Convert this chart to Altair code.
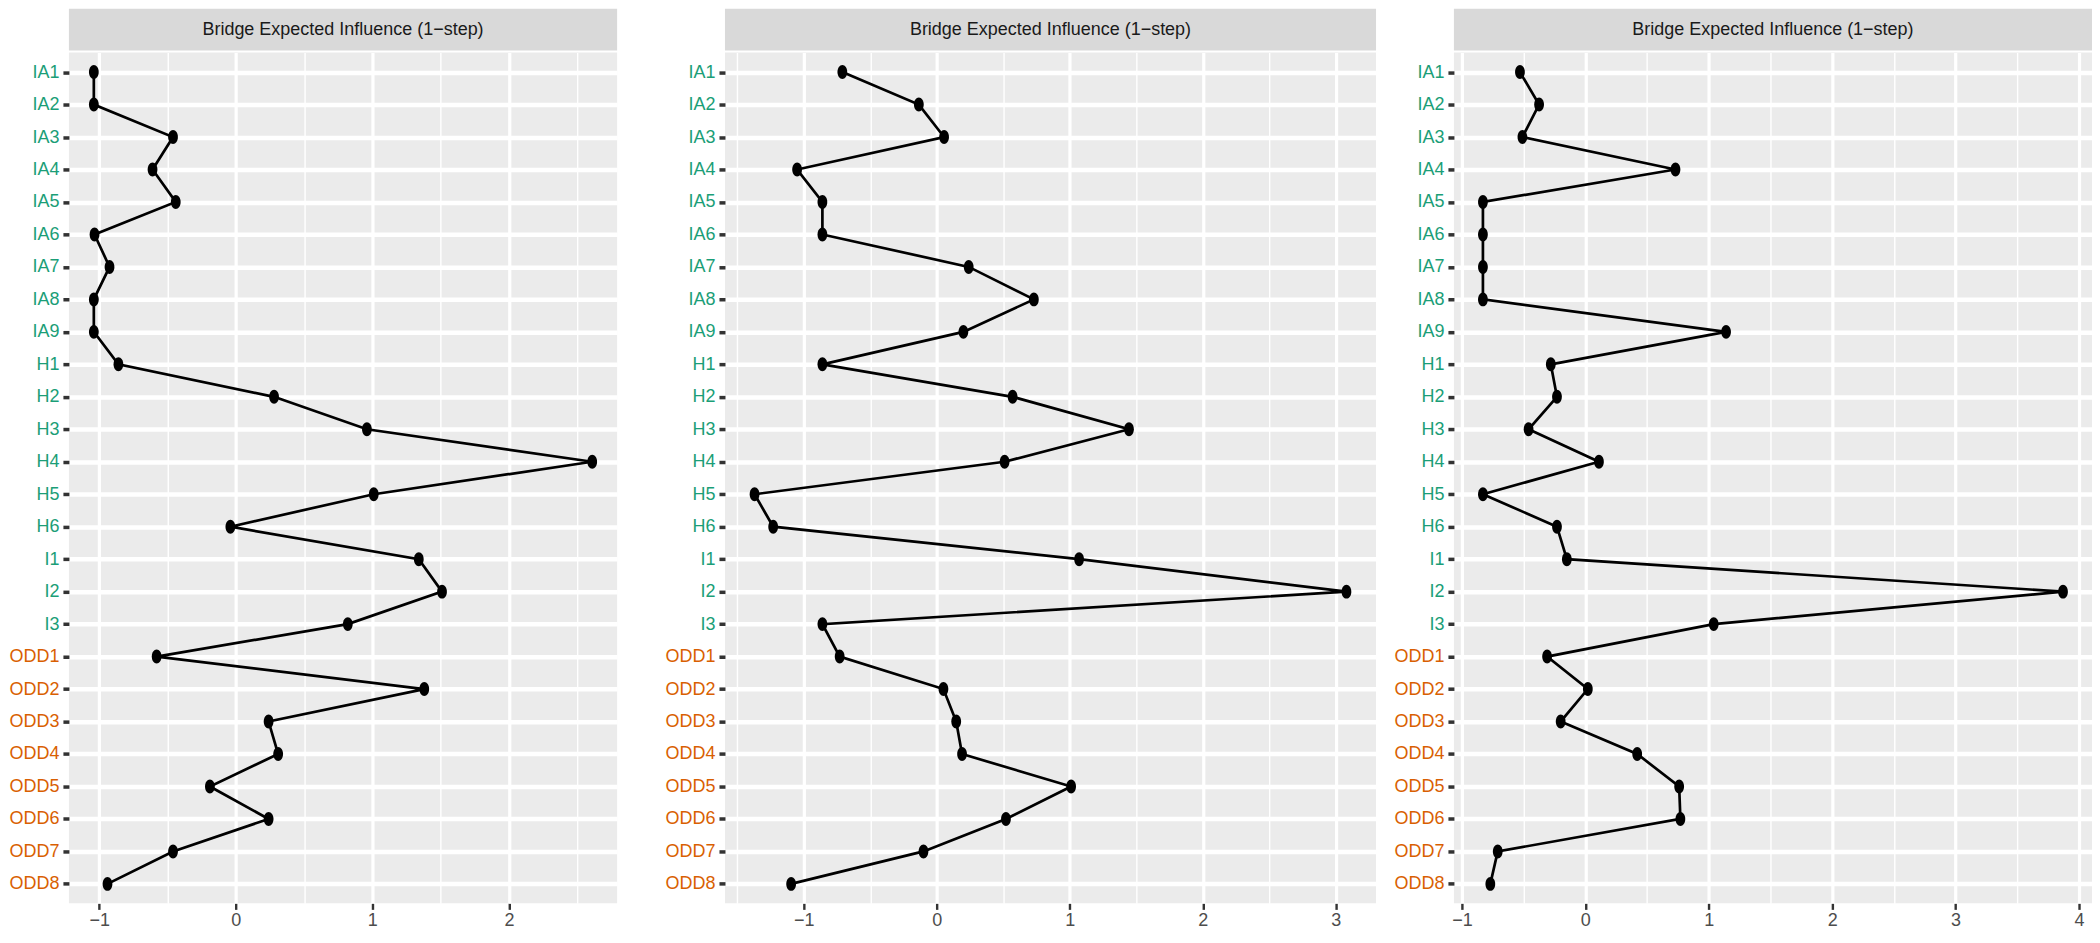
import altair as alt
import pandas as pd
import numpy as np

nodes = ["IA1", "IA2", "IA3", "IA4", "IA5", "IA6", "IA7", "IA8", "IA9",
         "H1", "H2", "H3", "H4", "H5", "H6", "I1", "I2", "I3",
         "ODD1", "ODD2", "ODD3", "ODD4", "ODD5", "ODD6", "ODD7", "ODD8"]

panel1 = [-1.04, -1.04, -0.46, -0.61, -0.44, -1.035, -0.925, -1.04, -1.04,
          -0.86, 0.28, 0.96, 2.61, 1.01, -0.04, 1.34, 1.51, 0.82,
          -0.58, 1.38, 0.24, 0.31, -0.19, 0.24, -0.46, -0.94]
panel2 = [-0.71, -0.135, 0.055, -1.05, -0.86, -0.86, 0.24, 0.73, 0.20,
          -0.86, 0.57, 1.445, 0.51, -1.37, -1.23, 1.07, 3.08, -0.86,
          -0.73, 0.05, 0.146, 0.19, 1.01, 0.52, -0.10, -1.095]
panel3 = [-0.53, -0.375, -0.51, 0.73, -0.83, -0.83, -0.83, -0.83, 1.14,
          -0.28, -0.23, -0.46, 0.11, -0.83, -0.23, -0.15, 3.87, 1.04,
          -0.31, 0.02, -0.20, 0.42, 0.76, 0.77, -0.71, -0.77]

strip_title = "Bridge Expected Influence (1\u2212step)"

FONT = "Liberation Sans, Arial, sans-serif"
FS = 18
GREEN = "#1B9E77"
ORANGE = "#D95F02"
PLOT_H = 852
HEADER_TOP = 44
ELLIPSE = "M-0.7,0A0.7,1 0 1,0 0.7,0A0.7,1 0 1,0 -0.7,0Z"


def make_panel(vals, width):
    df = pd.DataFrame({"node": nodes, "idx": list(range(len(nodes))), "value": vals})
    lo, hi = min(vals), max(vals)
    pad = 0.05 * (hi - lo)
    dom = [lo - pad, hi + pad]
    major = [float(v) for v in range(int(np.floor(dom[0])), int(np.ceil(dom[1])) + 1)
             if dom[0] <= v <= dom[1]]
    minor = [v + 0.5 for v in range(int(np.floor(dom[0])) - 1, int(np.ceil(dom[1])) + 1)
             if dom[0] <= v + 0.5 <= dom[1]]
    xs = alt.Scale(domain=dom, nice=False, zero=False)
    ys = alt.Scale(type="point", padding=0.6, domain=nodes)
    yaxis = alt.Axis(
        title=None, grid=True, gridColor="white", gridWidth=4.5,
        domain=False, tickSize=6, tickWidth=3.5, tickColor="#333333",
        labelFont=FONT, labelFontSize=FS, labelPadding=4,
        labelColor=alt.condition("indexof(datum.label, 'ODD') === 0",
                                 alt.value(ORANGE), alt.value(GREEN)),
    )
    yenc = alt.Y("node:N", sort=nodes, scale=ys, axis=yaxis)

    base = alt.Chart(df)
    line = base.mark_line(color="black", strokeWidth=2.7).encode(
        x=alt.X("value:Q", scale=xs,
                axis=alt.Axis(orient="top", values=minor, grid=True, gridColor="white",
                              gridWidth=1.4, labels=False, ticks=False, domain=False,
                              title=None)),
        y=yenc,
        order=alt.Order("idx:Q"),
    )
    pts = base.mark_point(shape=ELLIPSE, size=195, filled=True, color="black",
                          opacity=1).encode(
        x=alt.X("value:Q", scale=xs,
                axis=alt.Axis(orient="bottom", values=major, grid=True, gridColor="white",
                              gridWidth=3.2, domain=False, tickSize=6, tickWidth=2.4,
                              tickColor="#333333", labelColor="#4D4D4D", labelFont=FONT,
                              labelFontSize=FS, labelPadding=2, format="d", title=None)),
        y=yenc,
    )
    hdr = pd.DataFrame({"t": [strip_title]})
    rect = alt.Chart(hdr).mark_rect(color="#D9D9D9").encode(
        x=alt.value(0), x2=alt.value(width),
        y=alt.value(-HEADER_TOP), y2=alt.value(-2),
    )
    txt = alt.Chart(hdr).mark_text(font=FONT, fontSize=FS, color="#1A1A1A",
                                   baseline="middle", align="center").encode(
        x=alt.value(width / 2), y=alt.value(-23),
        text="t:N",
    )
    return alt.layer(rect, txt, line, pts).resolve_axis(x="independent").properties(
        width=width, height=PLOT_H)


p1 = make_panel(panel1, 549)
p2 = make_panel(panel2, 652)
p3 = make_panel(panel3, 639)

inner = alt.hconcat(p1, p2, spacing=47)
chart = alt.hconcat(inner, p3, spacing=17).properties(padding=0).configure(
    font=FONT,
    view=alt.ViewConfig(fill="#EBEBEB", stroke=None, strokeWidth=0),
)

chart.save("out.html", embed_options={"renderer": "svg", "actions": False})
